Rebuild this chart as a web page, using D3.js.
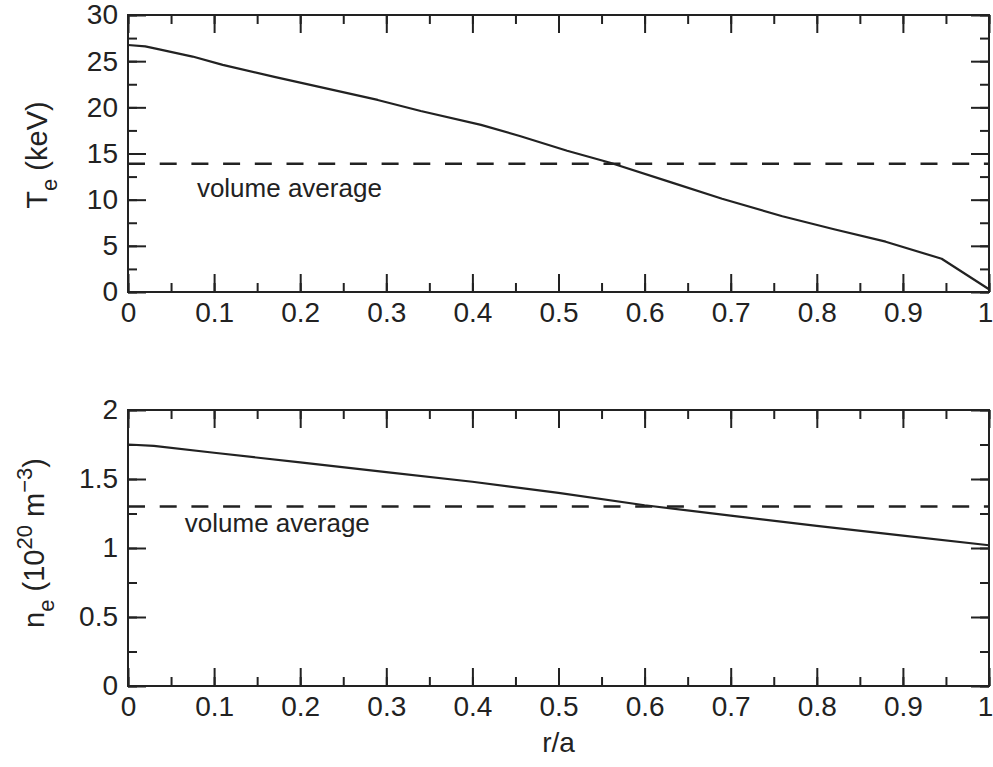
<!DOCTYPE html>
<html>
<head>
<meta charset="utf-8">
<script src="https://cdn.jsdelivr.net/npm/d3@7"></script>
<style>
  html, body { margin: 0; padding: 0; background: #fff; }
  svg { display: block; }
  text { font-family: "Liberation Sans", Arial, Helvetica, sans-serif; fill: #222; }
</style>
</head>
<body>
<svg id="chart" width="993" height="767"></svg>
<script>
// Normalised minor radius r/a
const rTe = [0, 0.02, 0.035, 0.075, 0.11, 0.17, 0.23, 0.29, 0.34, 0.41, 0.455, 0.51, 0.56, 0.63, 0.69, 0.76, 0.82, 0.88, 0.945, 1.0];
// Electron temperature profile (keV)
const teValues = [26.75, 26.6, 26.3, 25.5, 24.6, 23.3, 22.05, 20.8, 19.6, 18.1, 16.9, 15.3, 14.0, 11.9, 10.1, 8.2, 6.8, 5.45, 3.6, 0.3];
const teAverage = 13.9;

const rNe = [0, 0.03, 0.1, 0.2, 0.3, 0.4, 0.5, 0.6, 0.7, 0.8, 0.9, 1.0];
// Electron density profile (10^20 m^-3)
const neValues = [1.75, 1.74, 1.69, 1.62, 1.55, 1.48, 1.40, 1.31, 1.235, 1.16, 1.09, 1.02];
const neAverage = 1.3;

const xTicks = [0, 0.1, 0.2, 0.3, 0.4, 0.5, 0.6, 0.7, 0.8, 0.9, 1];
const teTicks = [0, 5, 10, 15, 20, 25, 30];
const neTicks = [0, 0.5, 1, 1.5, 2];
const avgLabel = "volume average";

const svg = d3.select("#chart");
const left = 128, right = 989;
const panels = [
  { top: 15, bottom: 292, r: rTe, v: teValues, avg: teAverage, dom: [0, 30],
    ticks: teTicks, minor: d3.range(0, 30.01, 2.5), fmt: d3.format("d"),
    avgX: 0.08, avgDy: 33 },
  { top: 410, bottom: 686, r: rNe, v: neValues, avg: neAverage, dom: [0, 2],
    ticks: neTicks, minor: d3.range(0, 2.001, 0.25), fmt: d => String(d),
    avgX: 0.066, avgDy: 25 }
];

const x = d3.scaleLinear().domain([0, 1]).range([left, right]);
const xMinor = d3.range(0, 1.001, 0.05);
const FS = 28;

panels.forEach((p, i) => {
  const y = d3.scaleLinear().domain(p.dom).range([p.bottom, p.top]);
  const g = svg.append("g");

  // inward major / minor ticks on all four sides
  const addAxis = (axisFn, scale, transform, vals, size, fmt, pad) => {
    const a = axisFn(scale).tickValues(vals).tickSizeInner(-size).tickSizeOuter(0)
      .tickPadding(pad || 0).tickFormat(fmt || "");
    const ag = g.append("g").attr("transform", transform).call(a);
    ag.select(".domain").remove();
    ag.selectAll("line").attr("stroke", "#222").attr("stroke-width", 2);
    ag.selectAll("text").attr("font-size", FS).attr("fill", "#222")
      .attr("font-family", '"Liberation Sans", Arial, sans-serif');
    return ag;
  };
  addAxis(d3.axisBottom, x, `translate(0,${p.bottom})`, xMinor, 9);
  addAxis(d3.axisTop, x, `translate(0,${p.top})`, xMinor, 9);
  addAxis(d3.axisLeft, y, `translate(${left},0)`, p.minor, 9);
  addAxis(d3.axisRight, y, `translate(${right},0)`, p.minor, 9);
  const xb = addAxis(d3.axisBottom, x, `translate(0,${p.bottom})`, xTicks, 18, d => d3.format("")(d), 10);
  // keep the last label inside the page edge
  xb.selectAll("text").filter(d => d === 1).attr("dx", -4);
  addAxis(d3.axisTop, x, `translate(0,${p.top})`, xTicks, 18);
  addAxis(d3.axisLeft, y, `translate(${left},0)`, p.ticks, 18, p.fmt, 10);
  addAxis(d3.axisRight, y, `translate(${right},0)`, p.ticks, 18);

  // frame
  g.append("rect").attr("x", left).attr("y", p.top)
    .attr("width", right - left).attr("height", p.bottom - p.top)
    .attr("fill", "none").attr("stroke", "#222").attr("stroke-width", 2);

  // volume average (dashed)
  g.append("line").attr("x1", left).attr("x2", right)
    .attr("y1", y(p.avg)).attr("y2", y(p.avg))
    .attr("stroke", "#222").attr("stroke-width", 2.5)
    .attr("stroke-dasharray", "17 14.7");
  g.append("text").attr("x", x(p.avgX)).attr("y", y(p.avg) + p.avgDy)
    .attr("font-size", 26).text(avgLabel);

  // profile
  const line = d3.line().x((d, k) => x(p.r[k])).y(d => y(d));
  g.append("path").datum(p.v).attr("d", line)
    .attr("fill", "none").attr("stroke", "#222").attr("stroke-width", 2.2)
    .attr("stroke-linejoin", "round");
});

// y-axis titles
const t1 = svg.append("text").attr("font-size", 29)
  .attr("transform", "translate(47,155) rotate(-90)").attr("text-anchor", "middle");
t1.append("tspan").text("T");
t1.append("tspan").attr("font-size", 22).attr("dy", 10).text("e");
t1.append("tspan").attr("dy", -10).text(" (keV)");

const t2 = svg.append("text").attr("font-size", 29)
  .attr("transform", "translate(44,543) rotate(-90)").attr("text-anchor", "middle");
t2.append("tspan").text("n");
t2.append("tspan").attr("font-size", 22).attr("dy", 10).text("e");
t2.append("tspan").attr("dy", -10).text(" (10");
t2.append("tspan").attr("font-size", 22).attr("dy", -12).text("20");
t2.append("tspan").attr("dy", 12).text(" m");
t2.append("tspan").attr("font-size", 22).attr("dy", -12).text("\u22123");
t2.append("tspan").attr("dy", 12).text(")");

// x-axis title
svg.append("text").attr("x", x(0.5)).attr("y", 752).attr("text-anchor", "middle")
  .attr("font-size", 28).text("r/a");
</script>
</body>
</html>
